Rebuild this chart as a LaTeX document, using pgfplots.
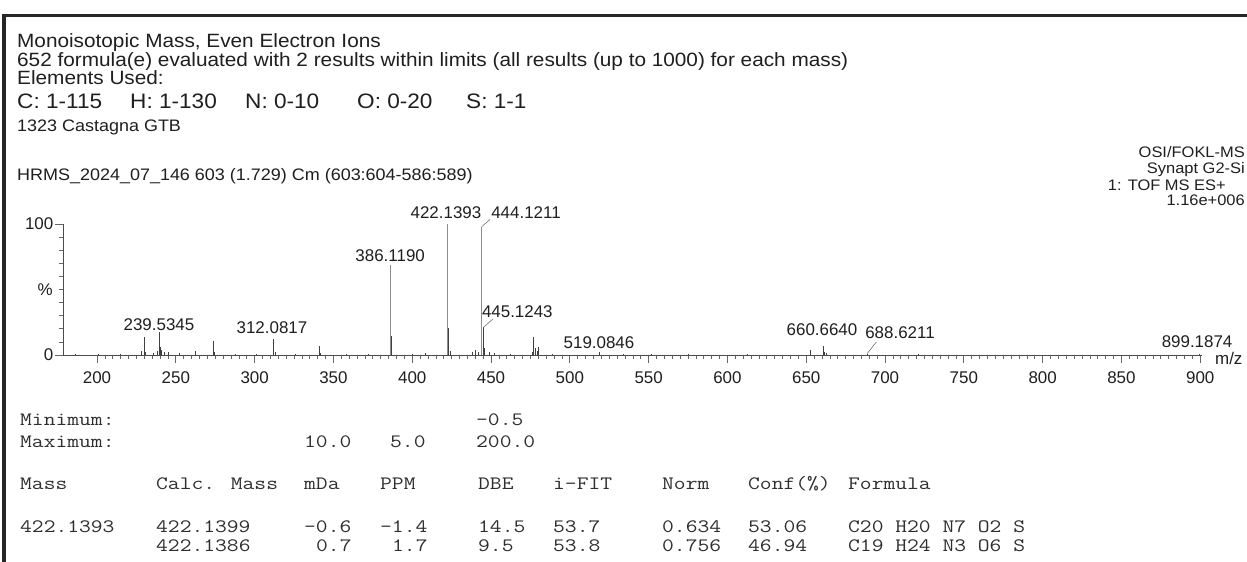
\documentclass[border=0pt]{standalone}
\usepackage{pgfplots}
\pgfplotsset{compat=1.18}
\usepackage{fontspec}
\setmainfont{Liberation Sans}
\newfontfamily\hdrfam{Liberation Sans}[FakeStretch=1.08]
\newfontfamily\tabfam{Latin Modern Mono}[FakeStretch=1.21]

\newcommand\hdrfont{\hdrfam\fontsize{19.3}{21}\selectfont}
\newcommand\elemfont{\hdrfam\fontsize{21}{23}\selectfont}
\newcommand\infofont{\hdrfam\fontsize{16.7}{19}\selectfont}
\newcommand\instfont{\hdrfam\fontsize{15.3}{17}\selectfont}
\newcommand\peakfont{\fontsize{17}{18}\selectfont}
\newcommand\tabfont{\tabfam\fontsize{19}{21}\selectfont}

\begin{document}
\begin{tikzpicture}
\useasboundingbox (0bp,0bp) rectangle (1247bp,562bp);
\fill[white] (0bp,0bp) rectangle (1247bp,562bp);

\begin{scope}[x=1bp,y=1bp,every node/.style={inner sep=0pt,text=black!88}]
% report frame
\draw[line width=3bp, black!85] (4,0) -- (4,546) -- (1248,546);

% header block
\node[anchor=base west, font=\hdrfont] at (17,562-48) {Monoisotopic Mass, Even Electron Ions};
\node[anchor=base west, font=\hdrfont] at (17,562-66.5) {652 formula(e) evaluated with 2 results within limits (all results (up to 1000) for each mass)};
\node[anchor=base west, font=\hdrfont] at (17,562-85) {Elements Used:};
\node[anchor=base west, font=\elemfont] at (17,562-109) {C: 1-115};
\node[anchor=base west, font=\elemfont] at (130,562-109) {H: 1-130};
\node[anchor=base west, font=\elemfont] at (245,562-109) {N: 0-10};
\node[anchor=base west, font=\elemfont] at (357,562-109) {O: 0-20};
\node[anchor=base west, font=\elemfont] at (466,562-109) {S: 1-1};
\node[anchor=base west, font=\infofont] at (17,562-132) {1323 Castagna GTB};
\node[anchor=base west, font=\infofont] at (17,562-180) {HRMS\_2024\_07\_146 603 (1.729) Cm (603:604-586:589)};

% instrument block
\node[anchor=base east, font=\instfont] at (1245,562-158) {OSI/FOKL-MS};
\node[anchor=base east, font=\instfont] at (1245,562-174) {Synapt G2-Si};
\node[anchor=base east, font=\instfont] at (1226,562-190) {1: TOF MS ES+};
\node[anchor=base east, font=\instfont] at (1245,562-205) {1.16e+006};

% elemental composition table
\begin{scope}[every node/.style={inner sep=0pt,anchor=base west,font=\tabfont,text=black!82}]
\node at (20,562-425) {Minimum:};
\node at (476,562-425) {-0.5};
\node at (20,562-447) {Maximum:};
\node at (304,562-447) {10.0};
\node at (390,562-447) {5.0};
\node at (476,562-447) {200.0};

\node at (20,562-489) {Mass};
\node at (156,562-489) {Calc. Mass};
\node at (304,562-489) {mDa};
\node at (380,562-489) {PPM};
\node at (478,562-489) {DBE};
\node at (553,562-489) {i-FIT};
\node at (662,562-489) {Norm};
\node at (748,562-489) {Conf(\%)};
\node at (848,562-489) {Formula};

\node at (20,562-532) {422.1393};
\node at (156,562-532) {422.1399};
\node at (304,562-532) {-0.6};
\node at (380,562-532) {-1.4};
\node at (478,562-532) {14.5};
\node at (553,562-532) {53.7};
\node at (662,562-532) {0.634};
\node at (748,562-532) {53.06};
\node at (848,562-532) {C20 H20 N7 O2 S};

\node at (156,562-551) {422.1386};
\node at (316,562-551) {0.7};
\node at (392,562-551) {1.7};
\node at (478,562-551) {9.5};
\node at (553,562-551) {53.8};
\node at (662,562-551) {0.756};
\node at (748,562-551) {46.94};
\node at (848,562-551) {C19 H24 N3 O6 S};
\end{scope}
\end{scope}

% mass spectrum
\begin{axis}[
  at={(63bp,207bp)}, anchor=south west,
  scale only axis, width=1139bp, height=131bp,
  xmin=178.4, xmax=901.1, ymin=0, ymax=100,
  axis x line=bottom, axis y line=left,
  axis line style={-, black!70, line width=0.8bp},
  xtick={200,250,...,900}, minor x tick num=9,
  ytick={0,100}, minor y tick num=9,
  tick align=outside, major tick length=8bp, minor tick length=4bp,
  tick style={black!60, line width=0.7bp},
  ticklabel style={font=\peakfont, text=black!88},
  xticklabel style={yshift=-5bp},
  yticklabel style={inner sep=1.5bp},
  /pgf/number format/assume math mode=true,
  clip=false,
]
% strongest ions
\addplot[ycomb, black!45, line width=0.9bp, no marks] coordinates {
 (386.12,68.5) (422.14,100) (444.12,98)
};
% remaining ions
\addplot[ycomb, black!75, line width=0.9bp, no marks] coordinates {
 (186.1,0.8) (201.0,0.6) (215.1,1.0) (228.1,3.0) (230.0,13.5) (231.0,2.5)
 (236.1,1.5) (238.5,3.0) (239.53,17.5) (240.0,6.0) (241.0,3.5) (242.5,2.0)
 (245.1,2.5) (252.1,1.5) (262.6,3.0) (273.8,10.8) (274.8,2.0) (288.0,1.0)
 (301.1,1.0) (312.08,12.2) (313.1,2.0) (326.0,0.8) (340.9,6.9) (342.0,1.5)
 (358.0,1.0) (372.1,0.8) (387.12,14.5) (400.1,1.0) (408.1,1.5)
 (423.14,20.5) (424.13,3.0) (438.1,2.0) (440.1,3.5) (442.1,2.5)
 (445.12,21) (446.12,5) (449.1,2.5) (452.1,1.2) (462.1,1.0)
 (476.1,2.0) (477.1,14) (478.1,5) (479.5,3) (480.1,6) (489.0,1.0)
 (519.08,2.0) (534.0,0.8) (552.0,0.6) (575.0,0.5) (613.0,0.6) (652.5,4.0)
 (660.66,6.5) (661.67,2.5) (662.7,1.2) (688.62,1.0) (721.0,0.5) (899.19,0.8)
};
% peak annotations
\begin{scope}[every node/.style={font=\peakfont, text=black!88, inner sep=0pt}]
\node at (axis cs:239.3,23) {239.5345};
\node at (axis cs:311.0,20.6) {312.0817};
\node at (axis cs:386.0,75.6) {386.1190};
\node at (axis cs:421.4,108.4) {422.1393};
\node at (axis cs:472.2,108.4) {444.1211};
\node at (axis cs:466.7,33.1) {445.1243};
\node at (axis cs:518.5,9.2) {519.0846};
\node at (axis cs:660.0,19.1) {660.6640};
\node at (axis cs:709.5,16.8) {688.6211};
\node at (axis cs:898.0,9.9) {899.1874};
\end{scope}
\draw[black!55, line width=0.6bp] (axis cs:444.12,98) -- (axis cs:449.4,103.5);
\draw[black!55, line width=0.6bp] (axis cs:445.12,21) -- (axis cs:451.0,27.3);
\draw[black!55, line width=0.6bp] (axis cs:688.62,1) -- (axis cs:694.5,10);
\node[font=\peakfont, text=black!88, anchor=east, inner sep=0pt] at (rel axis cs:0,0.5) [xshift=-10bp] {\%};
\node[font=\peakfont, text=black!88, anchor=west, inner sep=0pt] at (rel axis cs:1,0) [xshift=13bp, yshift=-3bp] {m/z};
\end{axis}
\end{tikzpicture}
\end{document}
